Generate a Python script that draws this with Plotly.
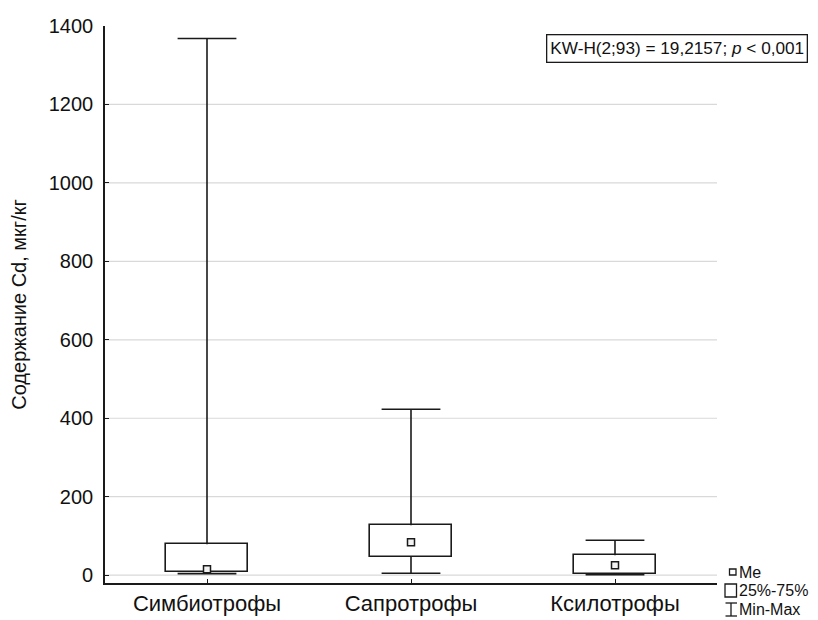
import plotly.graph_objects as go

categories = ["Симбиотрофы", "Сапротрофы", "Ксилотрофы"]
q1_vals = [7, 46, 2]
q3_vals = [79, 127, 51]
median_vals = [15, 84, 25]
min_vals = [4, 5, 1]
max_vals = [1368, 423, 89]
y_ticks = [0, 200, 400, 600, 800, 1000, 1200, 1400]
grid_ticks = [0, 200, 400, 600, 800, 1000, 1200]
annotation_text = "KW-H(2;93) = 19,2157; <i>p</i> < 0,001"
legend_labels = ["Me", "25%-75%", "Min-Max"]

W, H = 818, 620
L, R, T, B = 105, 717, 26, 583
FONT = "Liberation Sans, Arial, sans-serif"
LINE = "#1a1a1a"

fig = go.Figure()

# whisker stems
wx, wy = [], []
for c, lo, q1, q3, hi in zip(categories, min_vals, q1_vals, q3_vals, max_vals):
    wx += [c, c, None, c, c, None]
    wy += [q3, hi, None, q1, lo, None]
fig.add_trace(go.Scatter(
    x=wx, y=wy, mode="lines", line=dict(color=LINE, width=1.6),
    showlegend=False, hoverinfo="skip",
))

# boxes (25%-75%)
fig.add_trace(go.Bar(
    x=categories,
    y=[b - a for a, b in zip(q1_vals, q3_vals)],
    base=q1_vals,
    width=0.4,
    marker=dict(color="white", line=dict(color=LINE, width=1.6)),
    showlegend=False, hoverinfo="skip",
))

# whisker caps
fig.add_trace(go.Scatter(
    x=categories + categories, y=max_vals + min_vals, mode="markers",
    marker=dict(symbol="line-ew", size=42, color=LINE,
                line=dict(color=LINE, width=1.6)),
    showlegend=False, hoverinfo="skip",
))
# medians
fig.add_trace(go.Scatter(
    x=categories, y=median_vals, mode="markers",
    marker=dict(symbol="square", size=7, color="#f2f2f2",
                line=dict(color=LINE, width=1.5)),
    showlegend=False, hoverinfo="skip",
))

def px2x(px):
    return (px - L) / (R - L)

def px2y(py):
    return (B - py) / (B - T)

shapes = []
for g in grid_ticks:
    shapes.append(dict(type="line", xref="paper", yref="y", x0=0, x1=1,
                       y0=g, y1=g, layer="below",
                       line=dict(color="#d9d9d9", width=1.2)))
# legend glyphs
shapes.append(dict(type="rect", xref="paper", yref="paper",
                   x0=px2x(729.5), x1=px2x(736), y0=px2y(575), y1=px2y(569),
                   line=dict(color=LINE, width=1.3), fillcolor="white"))
shapes.append(dict(type="rect", xref="paper", yref="paper",
                   x0=px2x(725), x1=px2x(736.5), y0=px2y(597), y1=px2y(584),
                   line=dict(color=LINE, width=1.3), fillcolor="white"))
shapes.append(dict(type="line", xref="paper", yref="paper",
                   x0=px2x(731), x1=px2x(731), y0=px2y(616), y1=px2y(603),
                   line=dict(color=LINE, width=1.3)))
shapes.append(dict(type="line", xref="paper", yref="paper",
                   x0=px2x(725.5), x1=px2x(737), y0=px2y(603), y1=px2y(603),
                   line=dict(color=LINE, width=1.3)))
shapes.append(dict(type="line", xref="paper", yref="paper",
                   x0=px2x(725.5), x1=px2x(737), y0=px2y(616), y1=px2y(616),
                   line=dict(color=LINE, width=1.3)))

annotations = [dict(
    text=annotation_text, xref="paper", yref="paper",
    x=px2x(808), y=px2y(34), xanchor="right", yanchor="top",
    showarrow=False, font=dict(family=FONT, size=17.2, color="#111"),
    bordercolor=LINE, borderwidth=1.3, borderpad=3, bgcolor="white",
)]
for lab, py in zip(legend_labels, [572, 590.5, 609.5]):
    annotations.append(dict(
        text=lab, xref="paper", yref="paper",
        x=px2x(738), y=px2y(py), xanchor="left", yanchor="middle",
        showarrow=False, borderpad=0,
        font=dict(family=FONT, size=16, color="#111"),
    ))

fig.update_layout(
    width=W, height=H,
    margin=dict(l=L, r=W - R, t=T, b=H - B, pad=0, autoexpand=False),
    paper_bgcolor="white", plot_bgcolor="white",
    font=dict(family=FONT, size=20, color="#111"),
    xaxis=dict(
        type="category", range=[-0.5, 2.5], automargin=False,
        showline=True, linecolor=LINE, linewidth=1.6,
        ticks="inside", ticklen=4, tickcolor=LINE, tickwidth=1.3,
        showgrid=False, zeroline=False,
        tickfont=dict(family=FONT, size=22, color="#111"),
        ticklabelstandoff=0,
    ),
    yaxis=dict(
        range=[-20, 1400], automargin=False,
        tickvals=y_ticks,
        showline=True, linecolor=LINE, linewidth=1.6,
        ticks="inside", ticklen=4, tickcolor=LINE, tickwidth=1.3,
        showgrid=False, zeroline=False,
        tickfont=dict(family=FONT, size=20, color="#111"),
        ticklabelstandoff=6,
        title=dict(text="Содержание Cd, мкг/кг", standoff=17,
                   font=dict(family=FONT, size=20, color="#111")),
    ),
    shapes=shapes,
    annotations=annotations,
    bargap=0,
)
fig.write_html("out.html")
